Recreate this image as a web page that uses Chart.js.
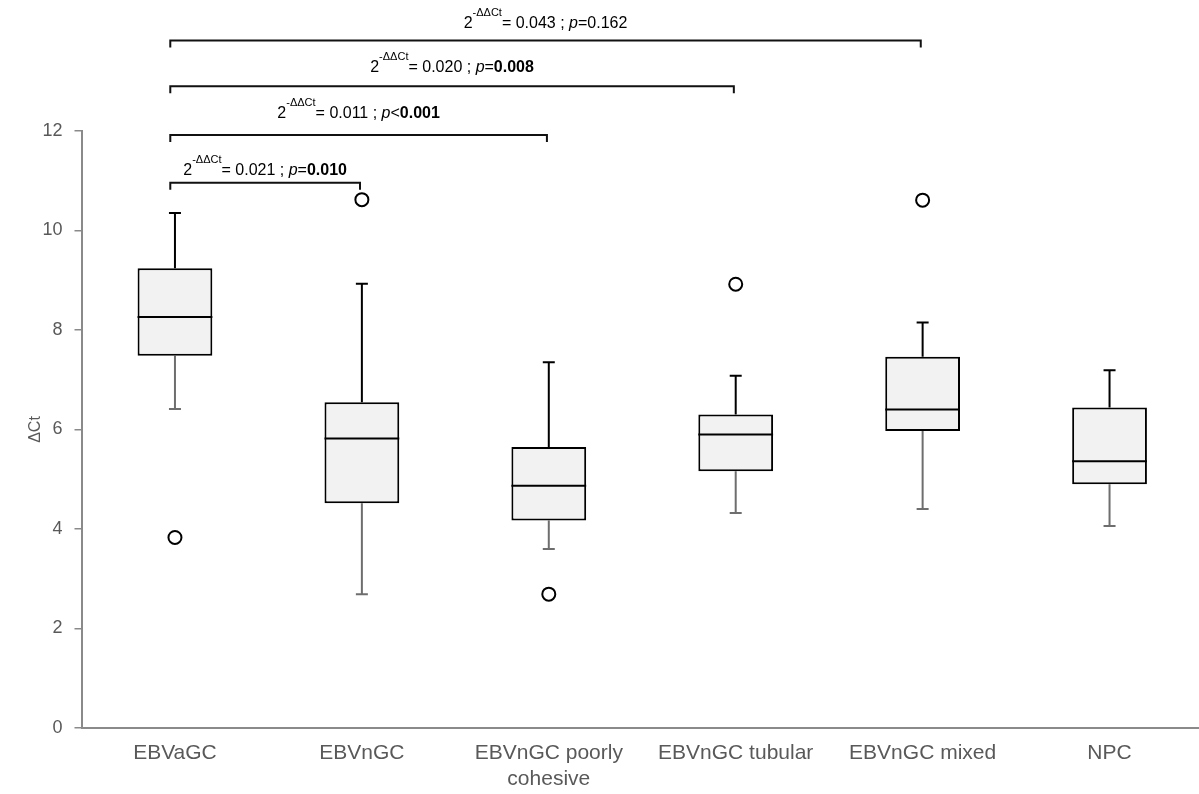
<!DOCTYPE html>
<html>
<head>
<meta charset="utf-8">
<script src="https://cdn.jsdelivr.net/npm/chart.js@4.4.1/dist/chart.umd.min.js"></script>
<style>
  html, body { margin: 0; padding: 0; overflow: hidden; background: #fff; }
  canvas { display: block; }
</style>
</head>
<body>
<canvas id="boxChart" width="1203" height="794"></canvas>
<script>
const FONT = "'Liberation Sans', Arial, sans-serif";
const AXIS_GREY = '#8a8a8a';
const TEXT_GREY = '#595959';

const categories = ['EBVaGC', 'EBVnGC', ['EBVnGC poorly', 'cohesive'], 'EBVnGC tubular', 'EBVnGC mixed', 'NPC'];

// box plot statistics, one entry per category
const whiskerLow  = [6.41, 2.69, 3.60, 4.32, 4.40, 4.06];
const q1          = [7.48, 4.52, 4.17, 5.16, 5.97, 4.90];
const median      = [8.26, 5.82, 4.87, 5.90, 6.40, 5.36];
const q3          = [9.24, 6.55, 5.65, 6.30, 7.46, 6.44];
const whiskerHigh = [10.35, 8.93, 7.35, 7.08, 8.15, 7.19];
const outliers    = [3.83, 10.62, 2.69, 8.92, 10.61, null];

const yTicks = [0, 2, 4, 6, 8, 10, 12];

// comparison brackets (EBVaGC vs. each group)
const brackets = [
  { from: 0, to: 1, level: 10.96, textLevel: 11.12, fc: '0.021', op: '=', p: '0.010', bold: true },
  { from: 0, to: 2, level: 11.92, textLevel: 12.26, fc: '0.011', op: '<', p: '0.001', bold: true },
  { from: 0, to: 3, level: 12.90, textLevel: 13.19, fc: '0.020', op: '=', p: '0.008', bold: true },
  { from: 0, to: 4, level: 13.82, textLevel: 14.08, fc: '0.043', op: '=', p: '0.162', bold: false }
];

const drawWhisker = (ctx, cx, yFrom, yTo, color) => {
  ctx.strokeStyle = color;
  ctx.beginPath();
  ctx.moveTo(cx, yFrom);
  ctx.lineTo(cx, yTo);
  ctx.moveTo(cx - 6, yTo);
  ctx.lineTo(cx + 6, yTo);
  ctx.stroke();
};

const drawBracketLabel = (ctx, b, cx, baseY) => {
  const parts = [
    { t: '2', f: `16px ${FONT}`, dy: 0 },
    { t: '-\u0394\u0394Ct', f: `11px ${FONT}`, dy: -12 },
    { t: `= ${b.fc} ; `, f: `16px ${FONT}`, dy: 0 },
    { t: 'p', f: `italic 16px ${FONT}`, dy: 0 },
    { t: b.op, f: `16px ${FONT}`, dy: 0 },
    { t: b.p, f: `${b.bold ? 'bold ' : ''}16px ${FONT}`, dy: 0 }
  ];
  let total = 0;
  parts.forEach(part => {
    ctx.font = part.f;
    part.w = ctx.measureText(part.t).width;
    total += part.w;
  });
  let x = cx - total / 2;
  ctx.fillStyle = '#000';
  ctx.textBaseline = 'alphabetic';
  ctx.textAlign = 'left';
  parts.forEach(part => {
    ctx.font = part.f;
    ctx.fillText(part.t, x, baseY + part.dy);
    x += part.w;
  });
};

const boxParts = {
  id: 'boxParts',
  beforeDatasetsDraw(chart) {
    const { ctx, scales: { x, y } } = chart;
    ctx.save();
    ctx.lineWidth = 2;
    categories.forEach((_, i) => {
      const cx = x.getPixelForValue(i);
      drawWhisker(ctx, cx, y.getPixelForValue(q3[i]), y.getPixelForValue(whiskerHigh[i]), '#000');
      drawWhisker(ctx, cx, y.getPixelForValue(q1[i]), y.getPixelForValue(whiskerLow[i]), '#6e6e6e');
    });
    ctx.restore();
  },
  afterDatasetsDraw(chart) {
    const { ctx, scales: { x, y } } = chart;
    const bars = chart.getDatasetMeta(0).data;
    ctx.save();
    // medians
    ctx.strokeStyle = '#000';
    ctx.lineWidth = 2;
    bars.forEach((bar, i) => {
      const my = y.getPixelForValue(median[i]);
      ctx.beginPath();
      ctx.moveTo(bar.x - bar.width / 2, my);
      ctx.lineTo(bar.x + bar.width / 2, my);
      ctx.stroke();
    });
    // significance brackets
    brackets.forEach(b => {
      const x1 = x.getPixelForValue(b.from - 0.025);
      const x2 = x.getPixelForValue(b.to - 0.01);
      const by = y.getPixelForValue(b.level);
      ctx.strokeStyle = '#111';
      ctx.lineWidth = 2;
      ctx.beginPath();
      ctx.moveTo(x1, by + 7);
      ctx.lineTo(x1, by);
      ctx.lineTo(x2, by);
      ctx.lineTo(x2, by + 7);
      ctx.stroke();
      drawBracketLabel(ctx, b, (x1 + x2) / 2, y.getPixelForValue(b.textLevel));
    });
    ctx.restore();
  }
};

const data = {
  labels: categories,
  datasets: [
    {
      type: 'bar',
      data: q1.map((v, i) => [v, q3[i]]),
      backgroundColor: '#f2f2f2',
      borderColor: '#000',
      borderWidth: 2,
      borderSkipped: false,
      barPercentage: 0.4,
      categoryPercentage: 1
    },
    {
      type: 'line',
      data: outliers,
      showLine: false,
      pointRadius: 6.5,
      pointBorderWidth: 2,
      pointBackgroundColor: '#fff',
      pointBorderColor: '#000'
    }
  ]
};

const config = {
  type: 'bar',
  data: data,
  options: {
    responsive: false,
    animation: false,
    layout: { autoPadding: false, padding: { top: 131, left: 0, right: 0, bottom: 0 } },
    plugins: {
      legend: { display: false },
      tooltip: { enabled: false }
    },
    scales: {
      x: {
        grid: { display: false, drawTicks: false },
        border: { display: true, color: AXIS_GREY, width: 2 },
        ticks: {
          color: TEXT_GREY,
          padding: 12,
          maxRotation: 0,
          autoSkip: false,
          font: { family: FONT, size: 21, lineHeight: 1.25 }
        },
        afterFit: (scale) => { scale.height = 66; }
      },
      y: {
        min: 0,
        max: 12,
        afterBuildTicks: (scale) => { scale.ticks = yTicks.map(v => ({ value: v })); },
        grid: {
          display: true,
          drawOnChartArea: false,
          drawTicks: true,
          tickLength: 7,
          color: AXIS_GREY,
          lineWidth: 1.5
        },
        border: { display: true, color: AXIS_GREY, width: 2 },
        ticks: {
          color: TEXT_GREY,
          padding: 12,
          font: { family: FONT, size: 18 }
        },
        title: {
          display: true,
          text: '\u0394Ct',
          color: TEXT_GREY,
          padding: { top: 26, bottom: 0 },
          font: { family: FONT, size: 16 }
        },
        afterFit: (scale) => { scale.width = 81.5; }
      }
    }
  },
  plugins: [boxParts]
};

window.onload = () => {
  new Chart(document.getElementById('boxChart'), config);
};
</script>
</body>
</html>
